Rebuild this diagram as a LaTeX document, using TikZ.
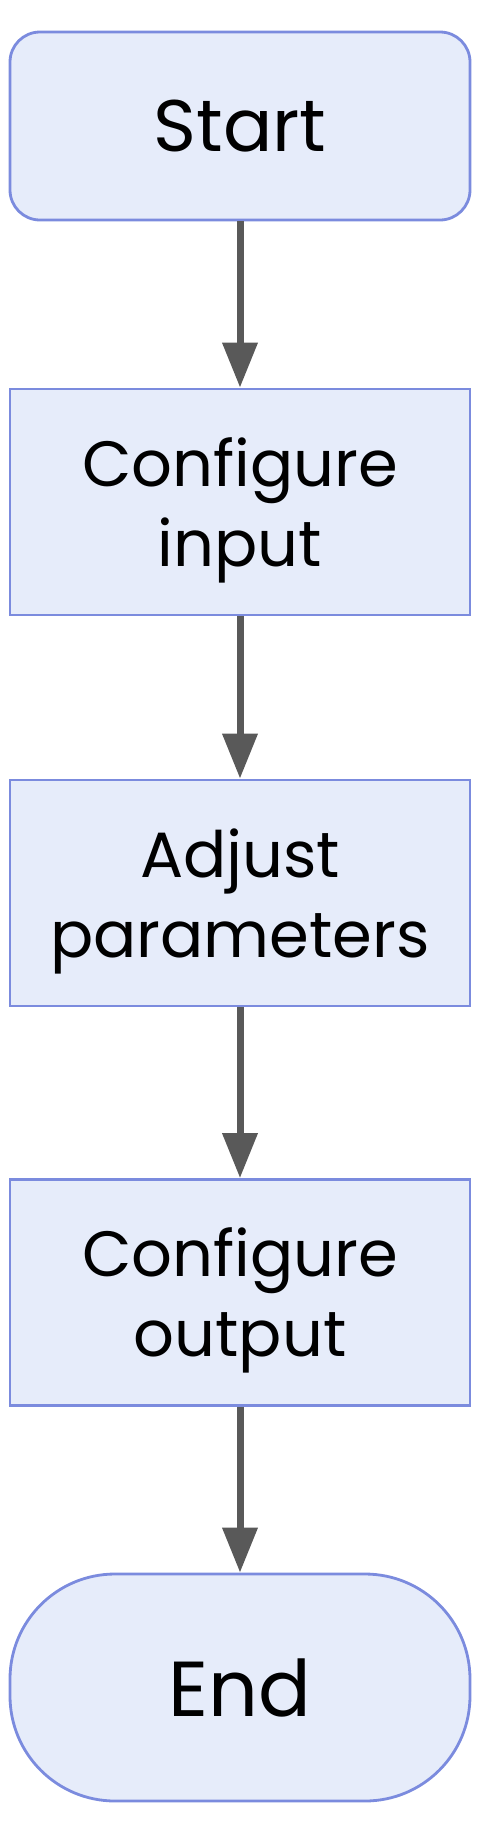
\documentclass[tikz,border=0pt]{standalone}
\usepackage{fontspec}
\setmainfont{Poppins}
\usetikzlibrary{arrows.meta,positioning}

\definecolor{boxfill}{HTML}{E6ECFA}
\definecolor{boxline}{HTML}{7B8BDE}
\definecolor{flowgray}{HTML}{595959}

\begin{document}
\begin{tikzpicture}[
  x=1pt, y=1pt,
  g/.style={draw=boxline, line width=2.8pt, fill=boxfill, align=center, inner sep=0pt,
            minimum width=460pt, font=\fontsize{64}{80}\selectfont},
  proc/.style={g, minimum height=226pt, text depth=0pt},
  term/.style={g, rounded corners=30pt, minimum height=188pt, font=\fontsize{73}{88}\selectfont},
  stop/.style={g, rounded corners=105pt, minimum height=227pt, font=\fontsize{78}{94}\selectfont},
  flow/.style={draw=flowgray, line width=7pt, -{Triangle[length=45pt, width=34pt]}}
]
\useasboundingbox (0,0) rectangle (488,-1832);

% nodes
\node[term] (start) at (240,-126)    {Start};
\node[proc] (cfgin) at (240,-502)    {Configure\\input};
\node[proc] (adjust) at (240,-893)   {Adjust\\parameters};
\node[proc] (cfgout) at (240,-1292.5) {Configure\\output};
\node[stop] (finish) at (240,-1687.5) {End};

% connectors
\draw[flow] (start) -- (cfgin);
\draw[flow] (cfgin) -- (adjust);
\draw[flow] (adjust) -- (cfgout);
\draw[flow] (cfgout) -- (finish);
\end{tikzpicture}
\end{document}
